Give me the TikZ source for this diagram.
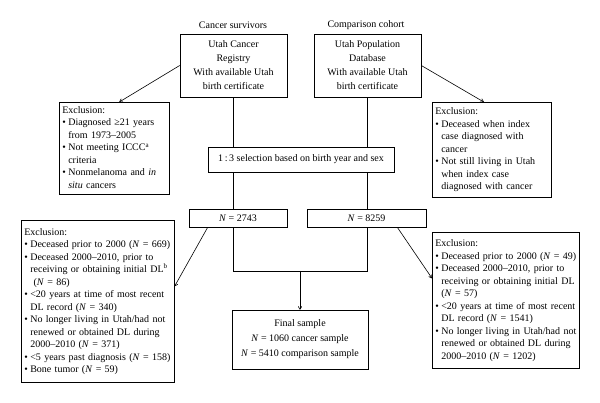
\documentclass[tikz,border=0pt]{standalone}
\usepackage{fontspec}
\setmainfont{Liberation Serif}
\usetikzlibrary{arrows.meta}
\newcommand\exlist[1]{\begin{tabular}{@{}l@{\hspace{2.5pt}}l@{}}\multicolumn{2}{@{}l@{}}{Exclusion:}\\#1\end{tabular}}
\begin{document}
\begin{tikzpicture}[x=1pt,y=-1pt,
  box/.style={draw, line width=0.6pt, inner sep=0pt, align=center, font=\fontsize{10}{14}\selectfont},
  exbox/.style={draw, line width=0.6pt, inner xsep=3pt, inner ysep=2pt, align=left, anchor=north west, font=\fontsize{10}{12.5}\selectfont},
  lbl/.style={font=\fontsize{10}{12}\selectfont},
  conn/.style={line width=0.6pt},
  arr/.style={conn, -{To[length=3.5pt,width=4pt]}}]
\useasboundingbox (0,0) rectangle (600,403);
\node[lbl] (lcs) at (233,25) {Cancer survivors};
\node[lbl] (lcc) at (366,25) {Comparison cohort};
\node[box, minimum width=107pt, minimum height=63pt] (ucr) at (233.5,65.5) {Utah Cancer\\Registry\\With available Utah\\birth certificate};
\node[box, minimum width=107pt, minimum height=63pt] (upd) at (367.5,65.5) {Utah Population\\Database\\With available Utah\\birth certificate};
\node[exbox, text width=104pt, minimum height=92pt] (exl1) at (59,102) {\exlist{%
\textbullet & Diagnosed ≥21 years\\
 & from 1973–2005\\
\textbullet & Not meeting ICCC\textsuperscript{a}\\
 & criteria\\
\textbullet & Nonmelanoma and \textit{in}\\
 & \textit{situ} cancers}};
\node[exbox, text width=113pt, minimum height=95pt] (exr1) at (432,102) {\exlist{%
\textbullet & Deceased when index\\
 & case diagnosed with\\
 & cancer\\
\textbullet & Not still living in Utah\\
 & when index case\\
 & diagnosed with cancer}};
\node[box, minimum width=186pt, minimum height=25pt] (sel) at (301,159.5) {1\,:\,3 selection based on birth year and sex};
\node[box, minimum width=98pt, minimum height=18pt] (n1) at (238,218) {\textit{N} = 2743};
\node[box, minimum width=119pt, minimum height=18pt] (n2) at (366.5,218) {\textit{N} = 8259};
\node[box, minimum width=136pt, minimum height=59pt, font=\fontsize{10}{15}\selectfont] (final) at (300,339.5) {Final sample\\\textit{N} = 1060 cancer sample\\\textit{N} = 5410 comparison sample};
\node[exbox, text width=147pt, minimum height=162pt] (exl2) at (21,220) {\exlist{%
\textbullet & Deceased prior to 2000 (\textit{N} = 669)\\
\textbullet & Deceased 2000–2010, prior to\\
 & receiving or obtaining initial DL\textsuperscript{b}\\
 & \ (\textit{N} = 86)\\
\textbullet & <20 years at time of most recent\\
 & DL record (\textit{N} = 340)\\
\textbullet & No longer living in Utah/had not\\
 & renewed or obtained DL during\\
 & 2000–2010 (\textit{N} = 371)\\
\textbullet & <5 years past diagnosis (\textit{N} = 158)\\
\textbullet & Bone tumor (\textit{N} = 59)}};
\node[exbox, text width=141pt, minimum height=136pt] (exr2) at (432,232) {\exlist{%
\textbullet & Deceased prior to 2000 (\textit{N} = 49)\\
\textbullet & Deceased 2000–2010, prior to\\
 & receiving or obtaining initial DL\\
 & (\textit{N} = 57)\\
\textbullet & <20 years at time of most recent\\
 & DL record (\textit{N} = 1541)\\
\textbullet & No longer living in Utah/had not\\
 & renewed or obtained DL during\\
 & 2000–2010 (\textit{N} = 1202)}};
\coordinate (j) at (300,271);
\draw[arr] (ucr.west) -- ([xshift=5pt]exl1.north);
\draw[arr] (upd.east) -- ([xshift=-8pt]exr1.north);
\draw[conn] (ucr.south) -- (ucr.south |- sel.north);
\draw[conn] (upd.south) -- (upd.south |- sel.north);
\draw[conn] (ucr.south |- sel.south) -- (ucr.south |- n1.north);
\draw[conn] (upd.south |- sel.south) -- (upd.south |- n2.north);
\draw[conn] (ucr.south |- n1.south) -- (ucr.south |- j) -- (upd.south |- j) -- (upd.south |- n2.south);
\draw[arr] (j) -- (final.north);
\draw[arr] ([xshift=19pt]n1.south west) -- ([yshift=15pt]exl2.east);
\draw[arr] ([xshift=-29pt]n2.south east) -- ([yshift=22pt]exr2.west);
\end{tikzpicture}
\end{document}
